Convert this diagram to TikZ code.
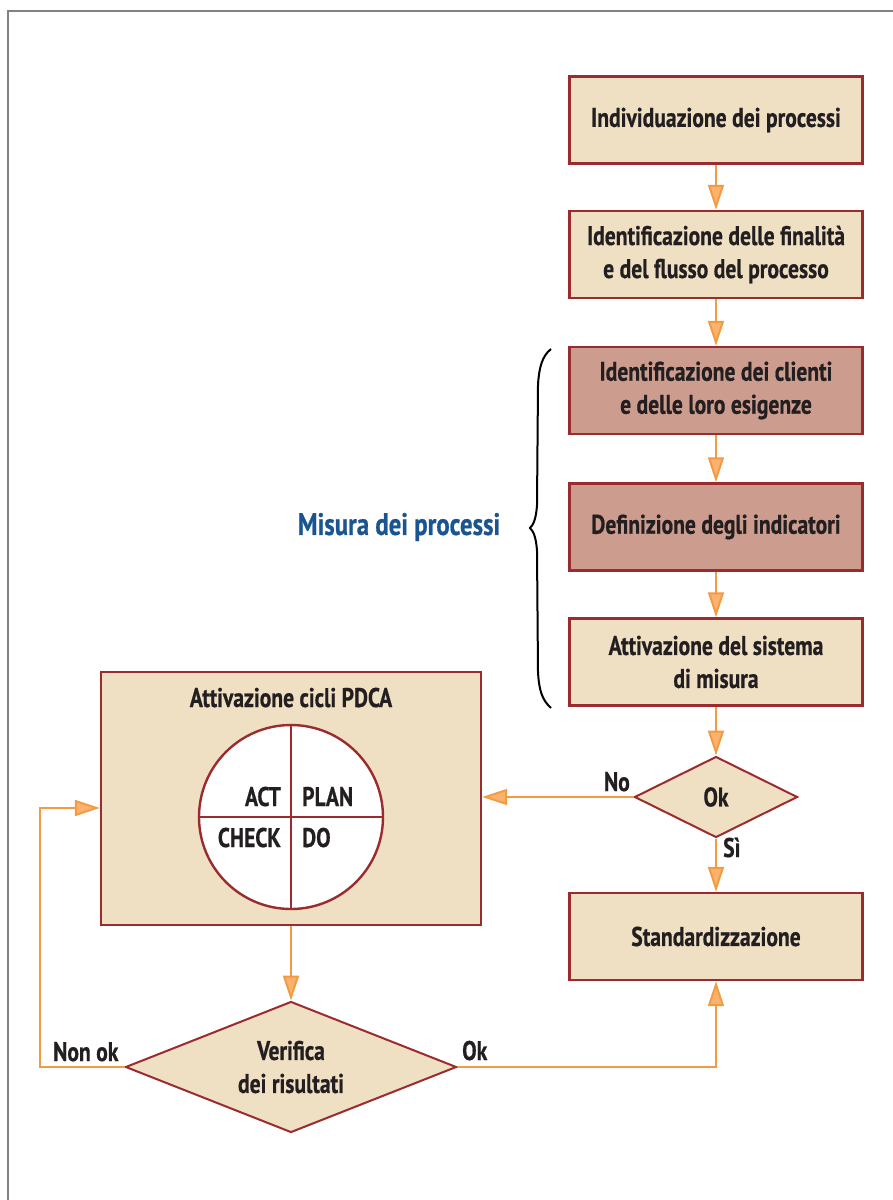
\documentclass[tikz,border=0pt]{standalone}
\usepackage{fontspec}
\setmainfont{PT Sans}[FakeStretch=0.80, BoldFeatures={FakeBold=0.6}]
\usetikzlibrary{arrows.meta,shapes.geometric}
\definecolor{boxfill}{RGB}{239,223,195}
\definecolor{keyfill}{RGB}{204,157,142}
\definecolor{edge}{RGB}{154,43,46}
\definecolor{flowline}{RGB}{243,155,66}
\definecolor{tipfill}{RGB}{251,178,108}
\definecolor{ink}{RGB}{35,31,32}
\definecolor{title}{RGB}{26,85,146}
\definecolor{frame}{RGB}{130,130,130}
\begin{document}
\begin{tikzpicture}[x=1pt,y=-1pt,
  every node/.style={font=\bfseries\fontsize{27}{33}\selectfont, text=ink},
  procbox/.style={draw=edge, line width=2.4pt, fill=boxfill, minimum width=293pt,
    minimum height=87pt, align=center, inner sep=0pt},
  keybox/.style={procbox, fill=keyfill},
  decision/.style={diamond, draw=edge, line width=2pt, fill=boxfill, inner sep=0pt,
    aspect=2, align=center},
  flow/.style={draw=flowline, line width=2pt,
    -{Triangle[length=25pt,width=16pt,fill=tipfill]}},
  divider/.style={draw=edge, line width=2.4pt},
  tag/.style={inner sep=0pt}]

\useasboundingbox (0,0) rectangle (893,1200);
% page frame
\draw[frame, line width=1.5pt] (893,11) -- (8,11) -- (8,1200);

% right column
\node[procbox] (b1) at (716,120) {Individuazione dei processi};
\node[procbox] (b2) at (716,254.5) {Identificazione delle finalità\\e del flusso del processo};
\node[keybox] (b3) at (716,390.5) {Identificazione dei clienti\\e delle loro esigenze};
\node[keybox] (b4) at (716,527) {Definizione degli indicatori};
\node[procbox] (b5) at (716,662) {Attivazione del sistema\\di misura};
\node[decision, minimum width=163pt, minimum height=81pt] (okd) at (716,797) {Ok};
\node[procbox] (std) at (716,936.5) {Standardizzazione};

% PDCA block
\node[procbox, minimum width=380pt, minimum height=253pt] (pdca) at (291,798.5) {};
\node[tag, anchor=base] (pdcat) at (291,707) {Attivazione cicli PDCA};
\node[circle, draw=edge, line width=2.4pt, fill=white, minimum size=184pt,
  inner sep=0pt] (wheel) at (291,817) {};
\draw[divider] (wheel.north) -- (wheel.south);
\draw[divider] (wheel.west) -- (wheel.east);
\node[tag, anchor=base east] (act) at (281,806) {ACT};
\node[tag, anchor=base west] (plan) at (302,806) {PLAN};
\node[tag, anchor=base east] (check) at (281,847) {CHECK};
\node[tag, anchor=base west] (do) at (302,847) {DO};

% results check
\node[decision, minimum width=331pt, minimum height=131pt] (ver) at (291,1067)
  {Verifica\\dei risultati};

% measurement group
\draw[black, line width=2pt] (551,349) .. controls (542,356) and (539,368) .. (538,385)
  -- (537,505) .. controls (536,520) and (533,525) .. (530,528)
  .. controls (533,531) and (536,536) .. (537,551)
  -- (538,672) .. controls (539,690) and (542,700) .. (551,708);
\node[tag, text=title, font=\bfseries\fontsize{31}{36}\selectfont] (misura) at (399,527)
  {Misura dei processi};

% connectors
\draw[flow] (b1) -- (b2);
\draw[flow] (b2) -- (b3);
\draw[flow] (b3) -- (b4);
\draw[flow] (b4) -- (b5);
\draw[flow] (b5) -- (okd);
\draw[flow] (okd) -- (std);
\draw[flow] (okd.west) -- (okd.west -| pdca.east);
\draw[flow] (pdca) -- (ver);
\coordinate (loop) at (40,808);
\draw[flow] (ver.west) -- (ver.west -| loop) -- (loop) -- (loop -| pdca.west);
\draw[flow] (ver.east) -| (std.south);

% connector labels
\node[tag, anchor=base east] (lno) at (630,791) {No};
\node[tag, anchor=base west] (lsi) at (723,857) {Sì};
\node[tag, anchor=base west] (lnonok) at (53,1061) {Non ok};
\node[tag, anchor=base west] (lok) at (462,1060) {Ok};
\end{tikzpicture}
\end{document}
